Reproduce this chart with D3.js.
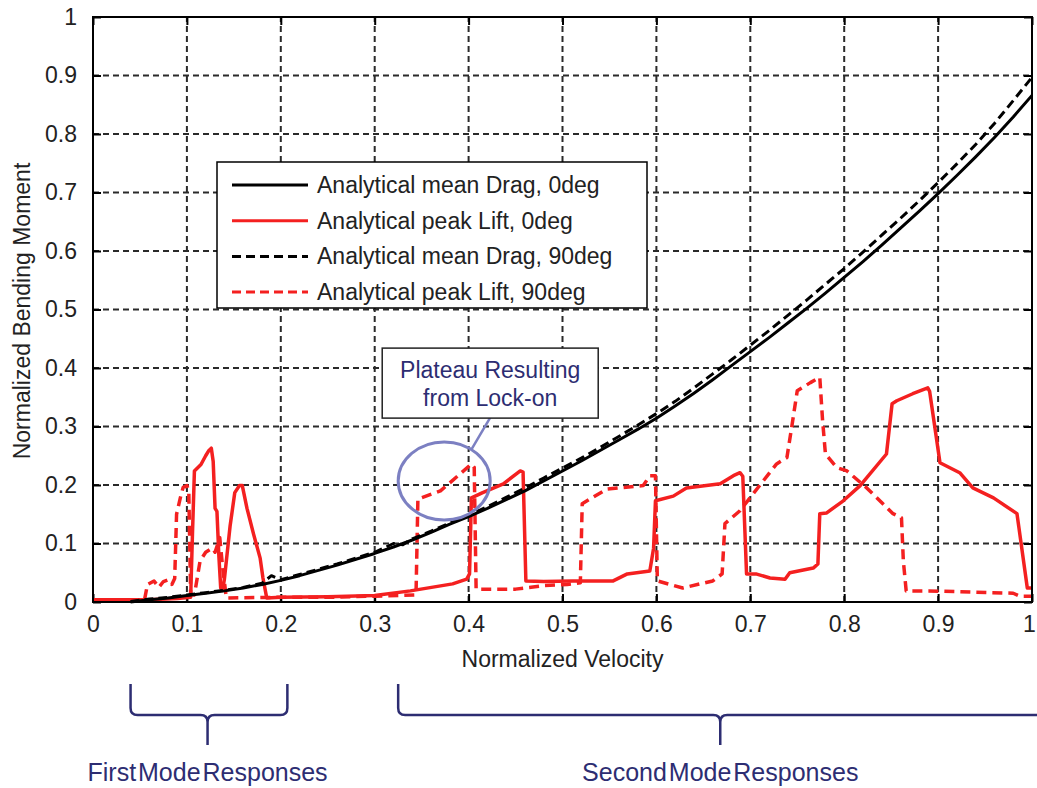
<!DOCTYPE html>
<html>
<head>
<meta charset="utf-8">
<script src="https://cdn.jsdelivr.net/npm/d3@7"></script>
<style>
body { margin: 0; background: #fff; }
text { font-family: "Liberation Sans", Arial, Helvetica, sans-serif; }
</style>
</head>
<body>
<svg id="chart" width="1037" height="788"></svg>
<script>
// values: [normalized velocity, normalized bending moment]
var dragMean0 = [
    [0.04, 0.000], [0.06, 0.004], [0.08, 0.007], [0.10, 0.011], [0.12, 0.015], [0.14, 0.019],
    [0.16, 0.024], [0.18, 0.030], [0.20, 0.037], [0.22, 0.045], [0.24, 0.054], [0.26, 0.063],
    [0.28, 0.073], [0.30, 0.083], [0.32, 0.094], [0.34, 0.106], [0.36, 0.119], [0.38, 0.133],
    [0.40, 0.146], [0.42, 0.160], [0.44, 0.175], [0.46, 0.190], [0.48, 0.207], [0.50, 0.224],
    [0.52, 0.241], [0.54, 0.259], [0.56, 0.277], [0.58, 0.295], [0.60, 0.314], [0.62, 0.335],
    [0.64, 0.357], [0.66, 0.380], [0.68, 0.404], [0.70, 0.428], [0.72, 0.452], [0.74, 0.477],
    [0.76, 0.502], [0.78, 0.528], [0.80, 0.555], [0.82, 0.582], [0.84, 0.610], [0.86, 0.639],
    [0.88, 0.668], [0.90, 0.698], [0.92, 0.729], [0.94, 0.761], [0.96, 0.794], [0.98, 0.829],
    [1.00, 0.866]
];
var liftPeak0 = [
    [0.000, 0.004], [0.060, 0.004], [0.090, 0.006], [0.104, 0.008], [0.106, 0.120], [0.108, 0.224],
    [0.115, 0.235], [0.120, 0.250], [0.123, 0.258], [0.126, 0.263], [0.128, 0.240], [0.130, 0.160],
    [0.132, 0.155], [0.134, 0.080], [0.136, 0.024], [0.138, 0.020], [0.140, 0.040], [0.146, 0.130],
    [0.151, 0.187], [0.156, 0.199], [0.159, 0.199], [0.164, 0.160], [0.171, 0.116], [0.178, 0.075],
    [0.181, 0.041], [0.185, 0.007], [0.200, 0.008], [0.250, 0.009], [0.300, 0.011], [0.338, 0.019],
    [0.383, 0.031], [0.398, 0.039], [0.401, 0.048], [0.403, 0.178], [0.415, 0.187], [0.437, 0.202],
    [0.455, 0.224], [0.458, 0.222], [0.461, 0.036], [0.480, 0.035], [0.511, 0.036], [0.554, 0.036],
    [0.569, 0.048], [0.593, 0.053], [0.597, 0.092], [0.599, 0.173], [0.618, 0.181], [0.632, 0.195],
    [0.668, 0.202], [0.682, 0.216], [0.689, 0.221], [0.692, 0.215], [0.696, 0.048], [0.706, 0.048],
    [0.721, 0.041], [0.737, 0.039], [0.742, 0.050], [0.767, 0.058], [0.772, 0.065], [0.774, 0.151],
    [0.781, 0.152], [0.799, 0.173], [0.817, 0.199], [0.845, 0.253], [0.851, 0.339], [0.856, 0.344],
    [0.873, 0.356], [0.889, 0.366], [0.891, 0.360], [0.902, 0.238], [0.923, 0.221], [0.937, 0.195],
    [0.959, 0.178], [0.984, 0.151], [0.995, 0.024], [1.000, 0.024]
];
var dragMean90 = [
    [0.04, 0.001], [0.06, 0.005], [0.08, 0.008], [0.10, 0.012], [0.12, 0.016], [0.14, 0.020],
    [0.16, 0.025], [0.18, 0.032], [0.19, 0.045], [0.20, 0.038], [0.22, 0.047], [0.24, 0.056],
    [0.26, 0.065], [0.28, 0.075], [0.30, 0.085], [0.32, 0.100], [0.33, 0.098], [0.34, 0.108],
    [0.36, 0.121], [0.38, 0.135], [0.40, 0.148], [0.42, 0.163], [0.44, 0.179], [0.46, 0.195],
    [0.48, 0.212], [0.50, 0.229], [0.52, 0.246], [0.54, 0.264], [0.56, 0.283], [0.58, 0.302],
    [0.60, 0.322], [0.62, 0.343], [0.64, 0.366], [0.66, 0.390], [0.68, 0.414], [0.70, 0.439],
    [0.72, 0.464], [0.74, 0.490], [0.76, 0.516], [0.78, 0.543], [0.80, 0.570], [0.82, 0.598],
    [0.84, 0.627], [0.86, 0.656], [0.88, 0.686], [0.90, 0.717], [0.92, 0.749], [0.94, 0.782],
    [0.96, 0.818], [0.98, 0.857], [1.00, 0.897]
];
var liftPeak90 = [
    [0.055, 0.005], [0.058, 0.030], [0.065, 0.036], [0.070, 0.025], [0.075, 0.035], [0.080, 0.038],
    [0.084, 0.030], [0.087, 0.040], [0.089, 0.150], [0.093, 0.178], [0.096, 0.196], [0.100, 0.199],
    [0.102, 0.190], [0.104, 0.013], [0.108, 0.012], [0.114, 0.070], [0.120, 0.085], [0.127, 0.092],
    [0.130, 0.085], [0.135, 0.110], [0.138, 0.060], [0.142, 0.007], [0.200, 0.008], [0.250, 0.008],
    [0.300, 0.010], [0.344, 0.012], [0.346, 0.176], [0.370, 0.190], [0.391, 0.219], [0.403, 0.236],
    [0.406, 0.230], [0.408, 0.022], [0.450, 0.022], [0.480, 0.028], [0.505, 0.030], [0.519, 0.033],
    [0.521, 0.168], [0.547, 0.193], [0.586, 0.199], [0.593, 0.216], [0.599, 0.216], [0.601, 0.036],
    [0.628, 0.024], [0.660, 0.036], [0.670, 0.048], [0.673, 0.134], [0.689, 0.156], [0.703, 0.185],
    [0.728, 0.236], [0.739, 0.247], [0.744, 0.298], [0.750, 0.361], [0.764, 0.375], [0.774, 0.384],
    [0.777, 0.310], [0.780, 0.253], [0.792, 0.230], [0.803, 0.224], [0.824, 0.195], [0.852, 0.151],
    [0.861, 0.144], [0.863, 0.070], [0.866, 0.019], [0.890, 0.019], [0.980, 0.015], [0.987, 0.010],
    [1.000, 0.010]
];

var xTicks = [0, 0.1, 0.2, 0.3, 0.4, 0.5, 0.6, 0.7, 0.8, 0.9, 1];
var yTicks = [0, 0.1, 0.2, 0.3, 0.4, 0.5, 0.6, 0.7, 0.8, 0.9, 1];
var tickLabels = ["0", "0.1", "0.2", "0.3", "0.4", "0.5", "0.6", "0.7", "0.8", "0.9", "1"];

var seriesNames = ["Analytical mean Drag, 0deg", "Analytical peak Lift, 0deg",
                   "Analytical mean Drag, 90deg", "Analytical peak Lift, 90deg"];
var seriesColors = ["#000000", "#f42020", "#000000", "#f42020"];
var seriesDash = [null, null, "9,5", "10,6"];
var seriesData = [dragMean0, liftPeak0, dragMean90, liftPeak90];

var annotationText = ["Plateau Resulting", "from Lock-on"];
var modeLabels = ["First Mode Responses", "Second Mode Responses"];

var svg = d3.select("#chart");
var margin = {left: 93, right: 5, top: 17, bottom: 186};
var width = 1037, height = 788;

var x = d3.scaleLinear().domain([0, 1]).range([margin.left, width - margin.right]);
var y = d3.scaleLinear().domain([0, 1]).range([height - margin.bottom, margin.top]);

svg.append("rect").attr("width", width).attr("height", height).attr("fill", "#fff");

// grid
var grid = svg.append("g").attr("stroke", "#2a2a2a").attr("stroke-width", 2).attr("stroke-dasharray", "6,4");
grid.selectAll("line.gx").data(xTicks.slice(1, -1)).enter().append("line")
    .attr("x1", function(d) { return x(d); }).attr("x2", function(d) { return x(d); })
    .attr("y1", y(0)).attr("y2", y(1));
grid.selectAll("line.gy").data(yTicks.slice(1, -1)).enter().append("line")
    .attr("y1", function(d) { return y(d); }).attr("y2", function(d) { return y(d); })
    .attr("x1", x(0)).attr("x2", x(1));

// axes, MATLAB style ticks inside on all four sides
var xAxis = d3.axisBottom(x).tickValues(xTicks).tickSizeInner(-8).tickSizeOuter(0).tickPadding(14)
    .tickFormat(function(d, i) { return tickLabels[i]; });
var yAxis = d3.axisLeft(y).tickValues(yTicks).tickSizeInner(-8).tickSizeOuter(0).tickPadding(16)
    .tickFormat(function(d, i) { return tickLabels[i]; });
var gx = svg.append("g").attr("transform", "translate(0," + y(0) + ")").call(xAxis);
var gy = svg.append("g").attr("transform", "translate(" + x(0) + ",0)").call(yAxis);
var gx2 = svg.append("g").attr("transform", "translate(0," + y(1) + ")")
    .call(d3.axisTop(x).tickValues(xTicks).tickSizeInner(-8).tickSizeOuter(0).tickFormat(""));
var gy2 = svg.append("g").attr("transform", "translate(" + x(1) + ",0)")
    .call(d3.axisRight(y).tickValues(yTicks).tickSizeInner(-8).tickSizeOuter(0).tickFormat(""));
[gx, gy, gx2, gy2].forEach(function(g) {
    g.select(".domain").remove();
    g.selectAll(".tick line").attr("stroke", "#000").attr("stroke-width", 2);
    g.selectAll("text").attr("font-size", 23).attr("fill", "#222");
});
// keep the last x label inside the picture
gx.selectAll(".tick text").filter(function(d) { return d === 1; }).attr("dx", -3);

// data lines
var line = d3.line().x(function(d) { return x(d[0]); }).y(function(d) { return y(d[1]); });
var order = [1, 3, 0, 2];
order.forEach(function(i) {
    svg.append("path").datum(seriesData[i])
        .attr("d", line)
        .attr("fill", "none")
        .attr("stroke", seriesColors[i])
        .attr("stroke-width", i % 2 ? 3.5 : 3)
        .attr("stroke-linejoin", "round")
        .attr("stroke-dasharray", seriesDash[i]);
});

// frame
svg.append("rect").attr("x", x(0)).attr("y", y(1))
    .attr("width", x(1) - x(0)).attr("height", y(0) - y(1))
    .attr("fill", "none").attr("stroke", "#000").attr("stroke-width", 2);

// axis titles
svg.append("text").attr("x", (x(0) + x(1)) / 2).attr("y", 667)
    .attr("text-anchor", "middle").attr("font-size", 23).attr("fill", "#222")
    .text("Normalized Velocity");
svg.append("text").attr("transform", "translate(30," + 311 + ") rotate(-90)")
    .attr("text-anchor", "middle").attr("font-size", 23).attr("fill", "#222")
    .text("Normalized Bending Moment");

// legend
var legend = svg.append("g");
legend.append("rect").attr("x", 217).attr("y", 162).attr("width", 430).attr("height", 146)
    .attr("fill", "#fff").attr("stroke", "#000").attr("stroke-width", 1.5);
seriesNames.forEach(function(name, i) {
    var ly = 185 + i * 35.7;
    legend.append("line").attr("x1", 232).attr("x2", 308).attr("y1", ly).attr("y2", ly)
        .attr("stroke", seriesColors[i]).attr("stroke-width", 3)
        .attr("stroke-dasharray", seriesDash[i] ? "9,5" : null);
    legend.append("text").attr("x", 317).attr("y", ly + 8).attr("font-size", 23)
        .attr("fill", "#222").text(name);
});

// plateau annotation
var navy = "#2d2d72";
var ecx = x(0.374), ecy = y(0.207);
svg.append("line").attr("x1", ecx + 27).attr("y1", ecy - 31).attr("x2", x(0.423)).attr("y2", y(0.315))
    .attr("stroke", "#7c80c2").attr("stroke-width", 2.5);
svg.append("ellipse").attr("cx", ecx).attr("cy", ecy).attr("rx", 46).attr("ry", 39)
    .attr("fill", "none").attr("stroke", "#7c80c2").attr("stroke-width", 3);
svg.append("rect").attr("x", x(0.308)).attr("y", y(0.434)).attr("width", 216).attr("height", 70)
    .attr("fill", "#fff").attr("stroke", "#222").attr("stroke-width", 1.5);
annotationText.forEach(function(t, i) {
    svg.append("text").attr("x", x(0.308) + 108).attr("y", y(0.434) + 30 + i * 28)
        .attr("text-anchor", "middle").attr("font-size", 23).attr("fill", navy).text(t);
});

// mode braces under the axis
function brace(x1, x2, xm, yTop, yMid, yTip) {
    var r = 7;
    return "M" + x1 + "," + yTop + "L" + x1 + "," + (yMid - r) +
        "Q" + x1 + "," + yMid + " " + (x1 + r) + "," + yMid +
        "L" + (xm - r) + "," + yMid + "Q" + xm + "," + yMid + " " + xm + "," + (yMid + r) +
        "L" + xm + "," + yTip +
        "M" + xm + "," + (yMid + r) + "Q" + xm + "," + yMid + " " + (xm + r) + "," + yMid +
        "L" + (x2 - r) + "," + yMid + "Q" + x2 + "," + yMid + " " + x2 + "," + (yMid - r) +
        "L" + x2 + "," + yTop;
}
var braces = [[0.040, 0.207, 0.122], [0.325, 1.02, 0.668]];
braces.forEach(function(b, i) {
    svg.append("path").attr("d", brace(x(b[0]), x(b[1]), x(b[2]), 684, 715, 745))
        .attr("fill", "none").attr("stroke", navy).attr("stroke-width", 2.5);
    svg.append("text").attr("x", x(b[2])).attr("y", 781).attr("text-anchor", "middle")
        .attr("font-size", 25).attr("fill", navy).attr("word-spacing", -5)
        .style("font-family", "'Liberation Sans Narrow', 'Liberation Sans', Arial, sans-serif")
        .text(modeLabels[i]);
});
</script>
</body>
</html>
